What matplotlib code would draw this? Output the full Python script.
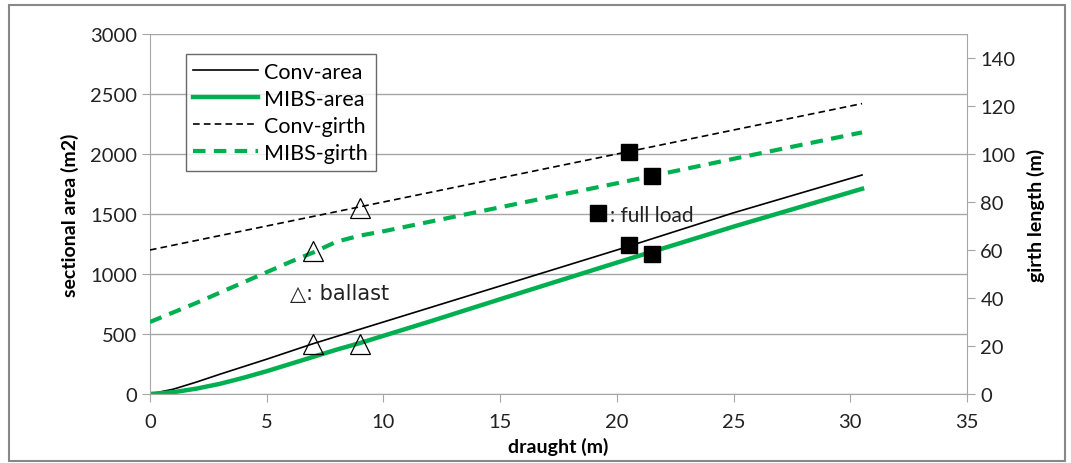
import matplotlib.pyplot as plt
from matplotlib.patches import Rectangle

# draught (m) and curves
conv_area_x = [0, 1, 2, 3, 5, 7, 9, 10, 15, 20, 25, 30.5]
conv_area_y = [0, 40, 100, 165, 290, 420, 540, 600, 900, 1200, 1510, 1825]
mibs_area_x = [0, 1, 2, 3, 4, 5, 6, 7, 8, 9, 10, 12, 15, 20, 25, 30.5]
mibs_area_y = [0, 15, 45, 85, 135, 190, 250, 310, 370, 425, 485, 605, 790, 1095, 1395, 1710]
conv_girth_x = [0, 30.5]
conv_girth_y = [60, 121]
mibs_girth_x = [0, 2, 4, 6, 7, 8, 9, 10, 15, 20, 25, 30.5]
mibs_girth_y = [30, 38, 46.5, 55, 59, 63.5, 66, 67.8, 77.8, 87.8, 98, 109]

# ballast (triangle) and full load (square) points
ballast_area_x = [7, 9]
ballast_area_y = [420, 420]
ballast_girth_x = [9, 7]
ballast_girth_y = [77.5, 59.5]
full_area_x = [20.5, 21.5]
full_area_y = [1240, 1170]
full_girth_x = [20.5, 21.5]
full_girth_y = [101, 91]

GREEN = "#00B050"
GRID = "#A6A6A6"
TXT = "#222222"
plt.rcParams["font.family"] = ["Lato", "DejaVu Sans"]

fig = plt.figure(figsize=(10.71, 4.64), dpi=100)
fig.patches.append(Rectangle((0.008, 0.004), 0.986, 0.982, transform=fig.transFigure,
                             fill=False, edgecolor="#888888", lw=1.5))
ax = fig.add_axes([0.140, 0.1487, 0.763, 0.7759])
ax2 = ax.twinx()

l1, = ax.plot(conv_area_x, conv_area_y, color="black", lw=1.2, label="Conv-area")
l2, = ax.plot(mibs_area_x, mibs_area_y, color=GREEN, lw=3.2, label="MIBS-area")
l3, = ax2.plot(conv_girth_x, conv_girth_y, color="black", lw=1.2, ls=(0, (4, 2.5)),
               label="Conv-girth")
l4, = ax2.plot(mibs_girth_x, mibs_girth_y, color=GREEN, lw=3.0, ls=(0, (3, 2)),
               label="MIBS-girth")

mk = dict(ls="none", zorder=5)
ax.plot(ballast_area_x, ballast_area_y, "^", ms=14, mfc="none", mec="black", mew=0.9, **mk)
ax2.plot(ballast_girth_x, ballast_girth_y, "^", ms=14, mfc="none", mec="black", mew=0.9, **mk)
ax.plot(full_area_x, full_area_y, "s", ms=12, color="black", **mk)
ax2.plot(full_girth_x, full_girth_y, "s", ms=12, color="black", **mk)

ax.text(6.0, 845, "\u25b3: ballast", fontsize=15, va="center", ha="left",
        family=["DejaVu Sans"], color=TXT)
ax.plot([19.2], [1510], "s", color="black", ms=12)
ax.text(19.7, 1490, ": full load", fontsize=15, va="center", ha="left", color=TXT)

ax.set_xlim(0, 35)
ax.set_ylim(0, 3000)
ax2.set_ylim(0, 150)
ax.set_xticks(range(0, 36, 5))
ax.set_yticks(range(0, 3001, 500))
ax2.set_yticks(range(0, 141, 20))
ax.grid(axis="y", color=GRID, lw=1.0)
ax.set_axisbelow(True)

for a in (ax, ax2):
    for s in a.spines.values():
        s.set_visible(False)
ax.spines["left"].set_visible(True)
ax.spines["left"].set_color(GRID)
ax.spines["bottom"].set_visible(True)
ax.spines["bottom"].set_color(GRID)
ax2.spines["right"].set_visible(True)
ax2.spines["right"].set_color(GRID)
ax.tick_params(axis="y", colors=GRID, labelcolor=TXT, labelsize=14.5, length=6)
ax.tick_params(axis="x", colors=GRID, labelcolor=TXT, labelsize=14.5, length=6, pad=8)
ax2.tick_params(axis="y", colors=GRID, labelcolor=TXT, labelsize=14.5, length=6)

ax.set_xlabel("draught (m)", fontsize=14, fontweight="bold", labelpad=5)
ax.set_ylabel("sectional area (m2)", fontsize=14, fontweight="bold", labelpad=8)
ax2.set_ylabel("girth length (m)", fontsize=14, fontweight="bold", labelpad=8)

leg = ax.legend(handles=[l1, l2, l3, l4], loc="upper left", bbox_to_anchor=(0.044, 0.944),
                fontsize=15.5, frameon=True, fancybox=False, handlelength=3.0,
                borderpad=0.35, labelspacing=0.33, handletextpad=0.3, borderaxespad=0)
leg.get_frame().set_edgecolor("#444444")
leg.get_frame().set_linewidth(1.0)

fig.savefig("out.png", dpi=100)
